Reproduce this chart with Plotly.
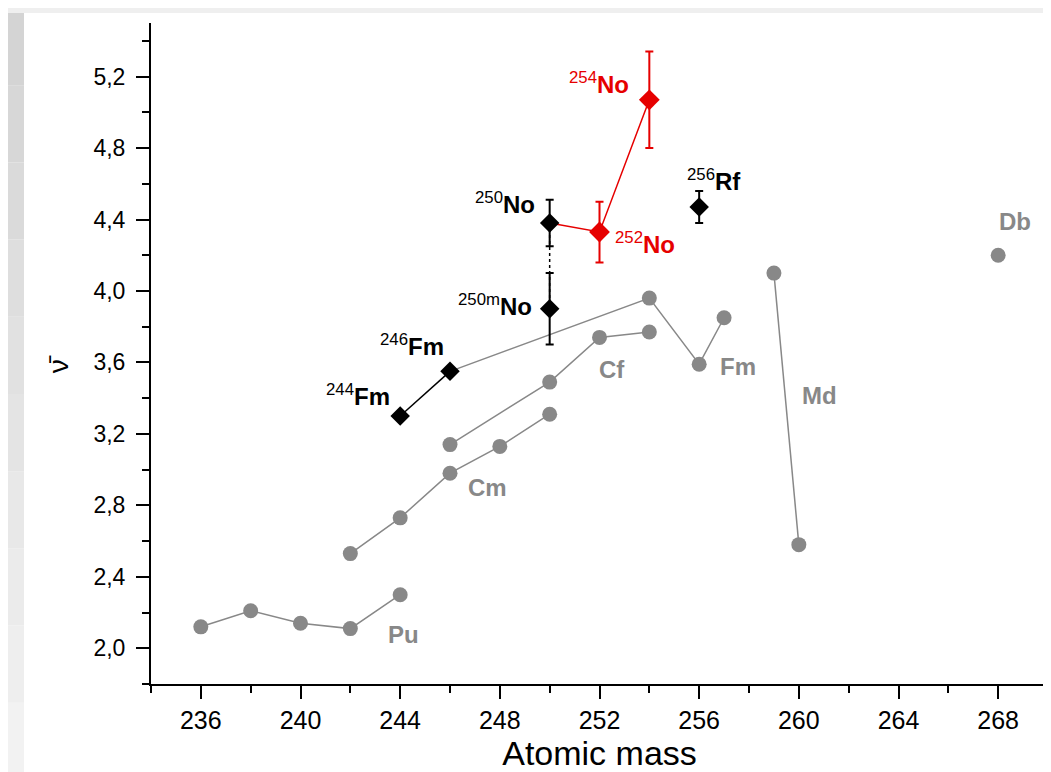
import plotly.graph_objects as go

# ---------------- data ----------------
pu_mass = [236, 238, 240, 242, 244]
pu_nu = [2.12, 2.21, 2.14, 2.11, 2.30]

cm_mass = [242, 244, 246, 248, 250]
cm_nu = [2.53, 2.73, 2.98, 3.13, 3.31]

cf_mass = [246, 250, 252, 254]
cf_nu = [3.14, 3.49, 3.74, 3.77]

fm_line_mass = [246, 254, 256, 257]
fm_line_nu = [3.55, 3.96, 3.59, 3.85]
fm_dot_mass = [254, 256, 257]
fm_dot_nu = [3.96, 3.59, 3.85]

md_mass = [259, 260]
md_nu = [4.10, 2.58]

db_mass = [268]
db_nu = [4.20]

fm_exp_mass = [244, 246]
fm_exp_nu = [3.30, 3.55]

no_red_line_mass = [250, 252, 254]
no_red_line_nu = [4.38, 4.33, 5.07]

no_red_mass = [252, 254]
no_red_nu = [4.33, 5.07]
no_red_err = [0.17, 0.27]

blk_mass = [250, 250, 256]
blk_nu = [4.38, 3.90, 4.47]
blk_err = [0.13, 0.20, 0.09]

x_ticks = [236, 240, 244, 248, 252, 256, 260, 264, 268]
y_ticks = [2.0, 2.4, 2.8, 3.2, 3.6, 4.0, 4.4, 4.8, 5.2]

# labels: text, x, y, xanchor, colour key
labels = [
    ("<b>Pu</b>", 243.45, 2.075, "left", "gray"),
    ("<b>Cm</b>", 246.65, 2.90, "left", "gray"),
    ("<b>Cf</b>", 251.9, 3.56, "left", "gray"),
    ("<b>Fm</b>", 256.75, 3.577, "left", "gray"),
    ("<b>Md</b>", 260.05, 3.414, "left", "gray"),
    ("<b>Db</b>", 267.95, 4.388, "left", "gray"),
    ("<sup>244</sup><b>Fm</b>", 243.68, 3.415, "right", "black"),
    ("<sup>246</sup><b>Fm</b>", 245.83, 3.695, "right", "black"),
    ("<sup>250</sup><b>No</b>", 249.5, 4.49, "right", "black"),
    ("<sup>250m</sup><b>No</b>", 249.37, 3.92, "right", "black"),
    ("<sup>254</sup><b>No</b>", 253.25, 5.165, "right", "red"),
    ("<sup>252</sup><b>No</b>", 252.53, 4.267, "left", "red"),
    ("<sup>256</sup><b>Rf</b>", 255.42, 4.622, "left", "black"),
]

GRAY = "#888888"
RED = "#e60000"
BLACK = "#000000"
colours = {"gray": GRAY, "red": RED, "black": BLACK}
FONT = "Arial, Liberation Sans, sans-serif"

fig = go.Figure()

gray_line = dict(color=GRAY, width=1.5)
gray_marker = dict(color=GRAY, size=15, symbol="circle")

for xs, ys in [(pu_mass, pu_nu), (cm_mass, cm_nu), (cf_mass, cf_nu), (md_mass, md_nu), (db_mass, db_nu)]:
    fig.add_trace(go.Scatter(x=xs, y=ys, mode="lines+markers", line=gray_line,
                             marker=gray_marker, showlegend=False))

fig.add_trace(go.Scatter(x=fm_line_mass, y=fm_line_nu, mode="lines", line=gray_line, showlegend=False))
fig.add_trace(go.Scatter(x=fm_dot_mass, y=fm_dot_nu, mode="markers", marker=gray_marker, showlegend=False))

# dotted connection between 250No and 250mNo
fig.add_trace(go.Scatter(x=[blk_mass[0], blk_mass[1]], y=[blk_nu[0], blk_nu[1]], mode="lines",
                         line=dict(color=BLACK, width=1.5, dash="dot"), showlegend=False))

# black Fm line
fig.add_trace(go.Scatter(x=fm_exp_mass, y=fm_exp_nu, mode="lines+markers",
                         line=dict(color=BLACK, width=1.5),
                         marker=dict(color=BLACK, size=15, symbol="diamond"), showlegend=False))

# red No line
fig.add_trace(go.Scatter(x=no_red_line_mass, y=no_red_line_nu, mode="lines",
                         line=dict(color=RED, width=1.5), showlegend=False))

fig.add_trace(go.Scatter(x=no_red_mass, y=no_red_nu, mode="markers",
                         marker=dict(color=RED, size=16, symbol="diamond"),
                         error_y=dict(type="data", array=no_red_err, color=RED, thickness=2, width=4),
                         showlegend=False))

fig.add_trace(go.Scatter(x=blk_mass, y=blk_nu, mode="markers",
                         marker=dict(color=BLACK, size=15, symbol="diamond"),
                         error_y=dict(type="data", array=blk_err, color=BLACK, thickness=2, width=4),
                         showlegend=False))

for text, x, y, xa, c in labels:
    fig.add_annotation(x=x, y=y, text=text, showarrow=False, xanchor=xa, yanchor="middle",
                       font=dict(family=FONT, size=24, color=colours[c]))

# y axis title (nu bar)
fig.add_annotation(xref="paper", yref="y", x=(50 - 143) / 897, y=3.59, text="ν\u0304", textangle=-90,
                   xanchor="center", yanchor="middle",
                   showarrow=False, font=dict(family=FONT, size=28, color=BLACK))

# background strips
shapes = []
n = 10
for i in range(n):
    g = int(0xf2 - (0xf2 - 0xd4) * i / (n - 1))
    col = f"rgb({g},{g},{g})"
    shapes.append(dict(type="rect", xref="paper", yref="paper",
                       x0=-143 / 897, x1=(16 - 143) / 897,
                       y0=(-96 + i * 772 / n) / 661, y1=(-96 + (i + 1) * 772 / n) / 661,
                       fillcolor=col, line=dict(width=0), layer="below"))
shapes.append(dict(type="rect", xref="paper", yref="paper", x0=-143 / 897, x1=1 + 11 / 897,
                   y0=1 + 10 / 661, y1=1 + 15 / 661, fillcolor="#efefef", line=dict(width=0),
                   layer="below"))

axis_common = dict(showline=True, linecolor=BLACK, linewidth=2, ticks="outside", ticklen=13,
                   tickwidth=2, tickcolor=BLACK, showgrid=False, zeroline=False, mirror=False)

fig.update_layout(
    width=1051, height=772,
    margin=dict(l=143, r=11, t=15, b=96),
    paper_bgcolor="white", plot_bgcolor="white",
    separators=", ",
    shapes=shapes,
    xaxis=dict(range=[234, 270], tickvals=x_ticks,
               tickfont=dict(family=FONT, size=25, color=BLACK),
               minor=dict(dtick=2, tick0=234, ticks="outside", ticklen=7, tickwidth=2, tickcolor=BLACK),
               title=dict(text="Atomic mass", font=dict(family=FONT, size=34, color=BLACK), standoff=4),
               ticklabelstandoff=0,
               **axis_common),
    yaxis=dict(range=[1.8, 5.5], tickvals=y_ticks, tickformat=".1f",
               tickfont=dict(family=FONT, size=23, color=BLACK),
               minor=dict(dtick=0.2, tick0=1.8, ticks="outside", ticklen=7, tickwidth=2, tickcolor=BLACK),
               ticklabelstandoff=6,
               **axis_common),
    showlegend=False,
)

fig.write_html("out.html")
